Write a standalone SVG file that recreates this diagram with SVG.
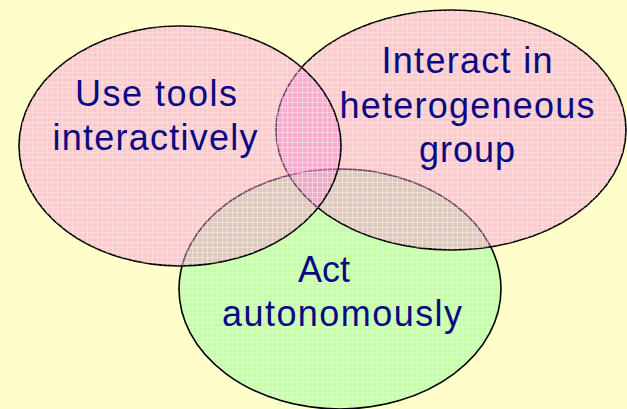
<svg xmlns="http://www.w3.org/2000/svg" width="627" height="409" viewBox="0 0 627 409">
  <defs>
    <style>
      .set { stroke: #000; stroke-width: 1.6; }
      .green { fill: #C6FFAA; }
      .pink { fill: #F68BD0; fill-opacity: 0.45; }
      .weave { fill: url(#weave); stroke: none; }
      .label { font-family: "Liberation Sans", Arial, sans-serif; font-size: 36px; fill: #0A0A80; text-anchor: middle; }
    </style>
    <!-- fine woven texture laid over each set -->
    <pattern id="weave" width="5" height="5" patternUnits="userSpaceOnUse">
      <rect x="0" y="2" width="5" height="1" fill="#FFFFFF" fill-opacity="0.3"/>
      <rect x="2" y="0" width="1" height="5" fill="#FFFFFF" fill-opacity="0.3"/>
    </pattern>
  </defs>

  <rect width="627" height="409" fill="#FFFFCC"/>

  <g id="act-autonomously">
    <ellipse class="green" cx="340" cy="289" rx="161" ry="120"/>
    <ellipse class="weave" cx="340" cy="289" rx="161" ry="120"/>
    <ellipse cx="340" cy="289" rx="161" ry="120" fill="none" class="set"/>
    <text class="label" x="324" y="282">Act</text>
    <text class="label" x="342" y="326" textLength="240" lengthAdjust="spacing">autonomously</text>
  </g>

  <g id="interact-heterogeneous-group">
    <ellipse class="pink set" cx="451" cy="130" rx="175" ry="120"/>
    <ellipse class="weave" cx="451" cy="130" rx="175" ry="120"/>
    <text class="label" x="467" y="73" textLength="171" lengthAdjust="spacing">Interact in</text>
    <text class="label" x="467" y="118" textLength="255" lengthAdjust="spacing">heterogeneous</text>
    <text class="label" x="467" y="162" textLength="96" lengthAdjust="spacing">group</text>
  </g>

  <g id="use-tools-interactively">
    <ellipse class="pink set" cx="180" cy="146" rx="161" ry="120"/>
    <ellipse class="weave" cx="180" cy="146" rx="161" ry="120"/>
    <text class="label" x="156" y="106" textLength="162" lengthAdjust="spacing">Use tools</text>
    <text class="label" x="155" y="150" textLength="205" lengthAdjust="spacing">interactively</text>
  </g>

  <g id="connectors"/>
</svg>
